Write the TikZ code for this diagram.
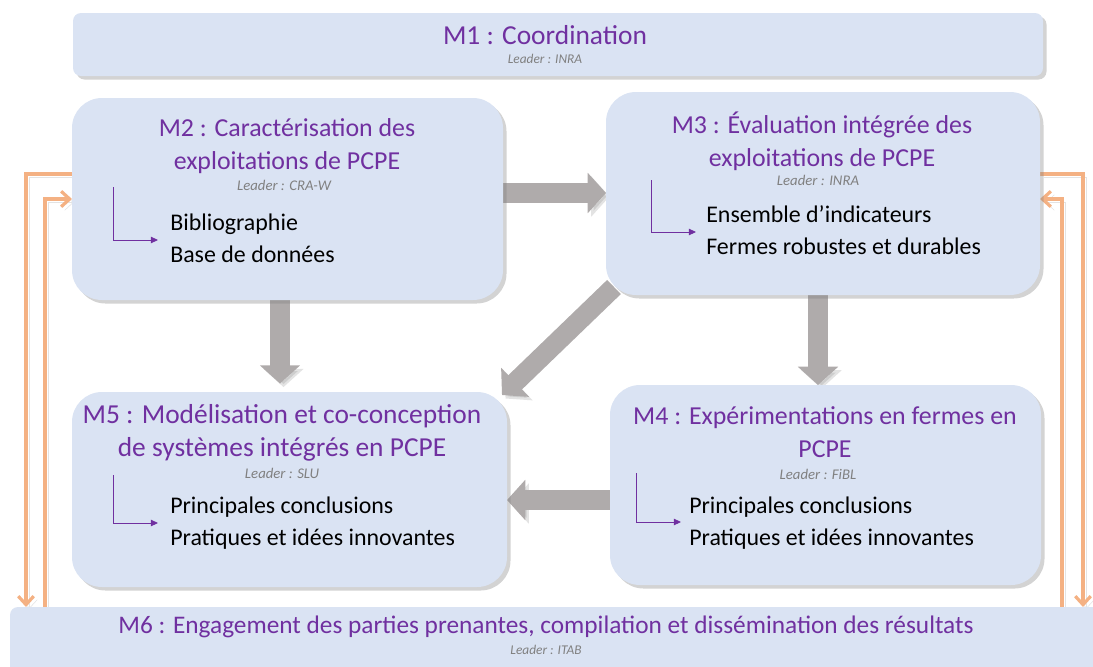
\documentclass[tikz,border=0pt]{standalone}
\usepackage{fontspec}
\setmainfont{Carlito}
\usetikzlibrary{arrows.meta,fit,shadows,backgrounds}
\definecolor{titlepurple}{HTML}{7030A0}
\definecolor{boxfill}{HTML}{DAE3F3}
\definecolor{arrowgray}{HTML}{AFABAB}
\definecolor{linkorange}{HTML}{F4B183}

\begin{document}
\begin{tikzpicture}[x=0.025cm,y=-0.025cm]
\tikzstyle{module}=[fill=boxfill, inner sep=0pt, outer sep=0pt, rounded corners=0.75cm,
  drop shadow={shadow xshift=2.5pt, shadow yshift=-2.5pt, opacity=0.35}]
\tikzstyle{band}=[module, rounded corners=0.2cm]
\tikzstyle{titre}=[text=titlepurple, font=\fontsize{19.5}{23.2}\selectfont, align=center]
\tikzstyle{titrep}=[titre, font=\fontsize{18.4}{23.2}\selectfont]
\tikzstyle{leader}=[text=black!50, font=\fontsize{10.5}{12}\selectfont\itshape]
\tikzstyle{leaderp}=[leader, font=\fontsize{9.5}{11}\selectfont\itshape]
\tikzstyle{item}=[anchor=west, align=left, inner sep=0pt, font=\fontsize{17}{22.8}\selectfont]
\tikzstyle{ombre}=[preaction={draw=black!60, opacity=0.18, transform canvas={xshift=2.5pt,yshift=-2.5pt}}]
\tikzstyle{flux}=[ombre, draw=arrowgray, line width=14pt, -{Triangle[length=13pt,width=28pt]}]
\tikzstyle{lien}=[ombre, draw=linkorange, line width=2.3pt, -{Straight Barb[length=6pt,width=11pt]}]
\tikzstyle{puce}=[draw=titlepurple, line width=0.6pt, -{Triangle[length=5pt,width=4.5pt]}]
\useasboundingbox (0,0) rectangle (1093,666);

% modules
\node[band, fit={(73,13) (1043,76)}] (m1) {};
\node[module, fit={(72,98) (503,300)}] (m2) {};
\node[module, fit={(606,92) (1040,295)}] (m3) {};
\node[module, fit={(72,392) (507,587)}] (m5) {};
\node[module, fit={(610,385) (1041,585)}] (m4) {};
\node[band, fit={(10,607) (1110,700)}] (m6) {};

\node[titre] (t1) at (545,35) {M1 : Coordination};
\node[leaderp] (l1) at (545,59) {Leader : INRA};

\node[titrep] (t2) at (287,146) {M2 : Caractérisation des\\exploitations de PCPE};
\node[leader] (l2) at (284,185) {Leader : CRA-W};
\node[item] (i2) at (170,238) {Bibliographie\\Base de données};

\node[titrep] (t3) at (822,141) {M3 : Évaluation intégrée des\\exploitations de PCPE};
\node[leader] (l3) at (818,180) {Leader : INRA};
\node[item] (i3) at (706,230) {Ensemble d’indicateurs\\Fermes robustes et durables};

\node[titre] (t5) at (282,433) {M5 : Modélisation et co-conception\\de systèmes intégrés en PCPE};
\node[leader] (l5) at (282,473) {Leader : SLU};
\node[item] (i5) at (170,523) {Principales conclusions\\Pratiques et idées innovantes};

\node[titrep] (t4) at (825,432) {M4 : Expérimentations en fermes en\\PCPE};
\node[leader] (l4) at (818,474) {Leader : FiBL};
\node[item] (i4) at (689,523) {Principales conclusions\\Pratiques et idées innovantes};

\node[titre, font=\fontsize{18}{22}\selectfont] (t6) at (546,627) {M6 : Engagement des parties prenantes, compilation et dissémination des résultats};
\node[leaderp] (l6) at (546,650) {Leader : ITAB};

\foreach \x/\ya/\yb in {113/187/240, 651/180/232, 113/475/523, 636/473/522}
  \draw[puce] (\x,\ya) |- (\x+45,\yb);

\begin{pgfonlayer}{background}
\draw[flux] (m2.east |- 0,193) -- (m3.west |- 0,193);
\draw[flux, shorten >=6pt] (m2.south -| 280,0) -- (m5.north -| 280,0);
\draw[flux] (m3.south -| 818,0) -- (m4.north -| 818,0);
\draw[flux] ([shift={(8,-8)}]m3.south west) -- ([shift={(-5,3)}]m5.north east);
\draw[flux] (m4.west |- 0,500) -- (m5.east |- 0,500);

\draw[lien] (m2.west |- 0,174) -| (m6.north -| 26,0);
\draw[lien] (m6.north -| 45,0) |- (m2.west |- 0,199);
\draw[lien] (m3.east |- 0,174) -| (m6.north -| 1083,0);
\draw[lien] (m6.north -| 1062,0) |- (m3.east |- 0,199);
\end{pgfonlayer}
\end{tikzpicture}
\end{document}
